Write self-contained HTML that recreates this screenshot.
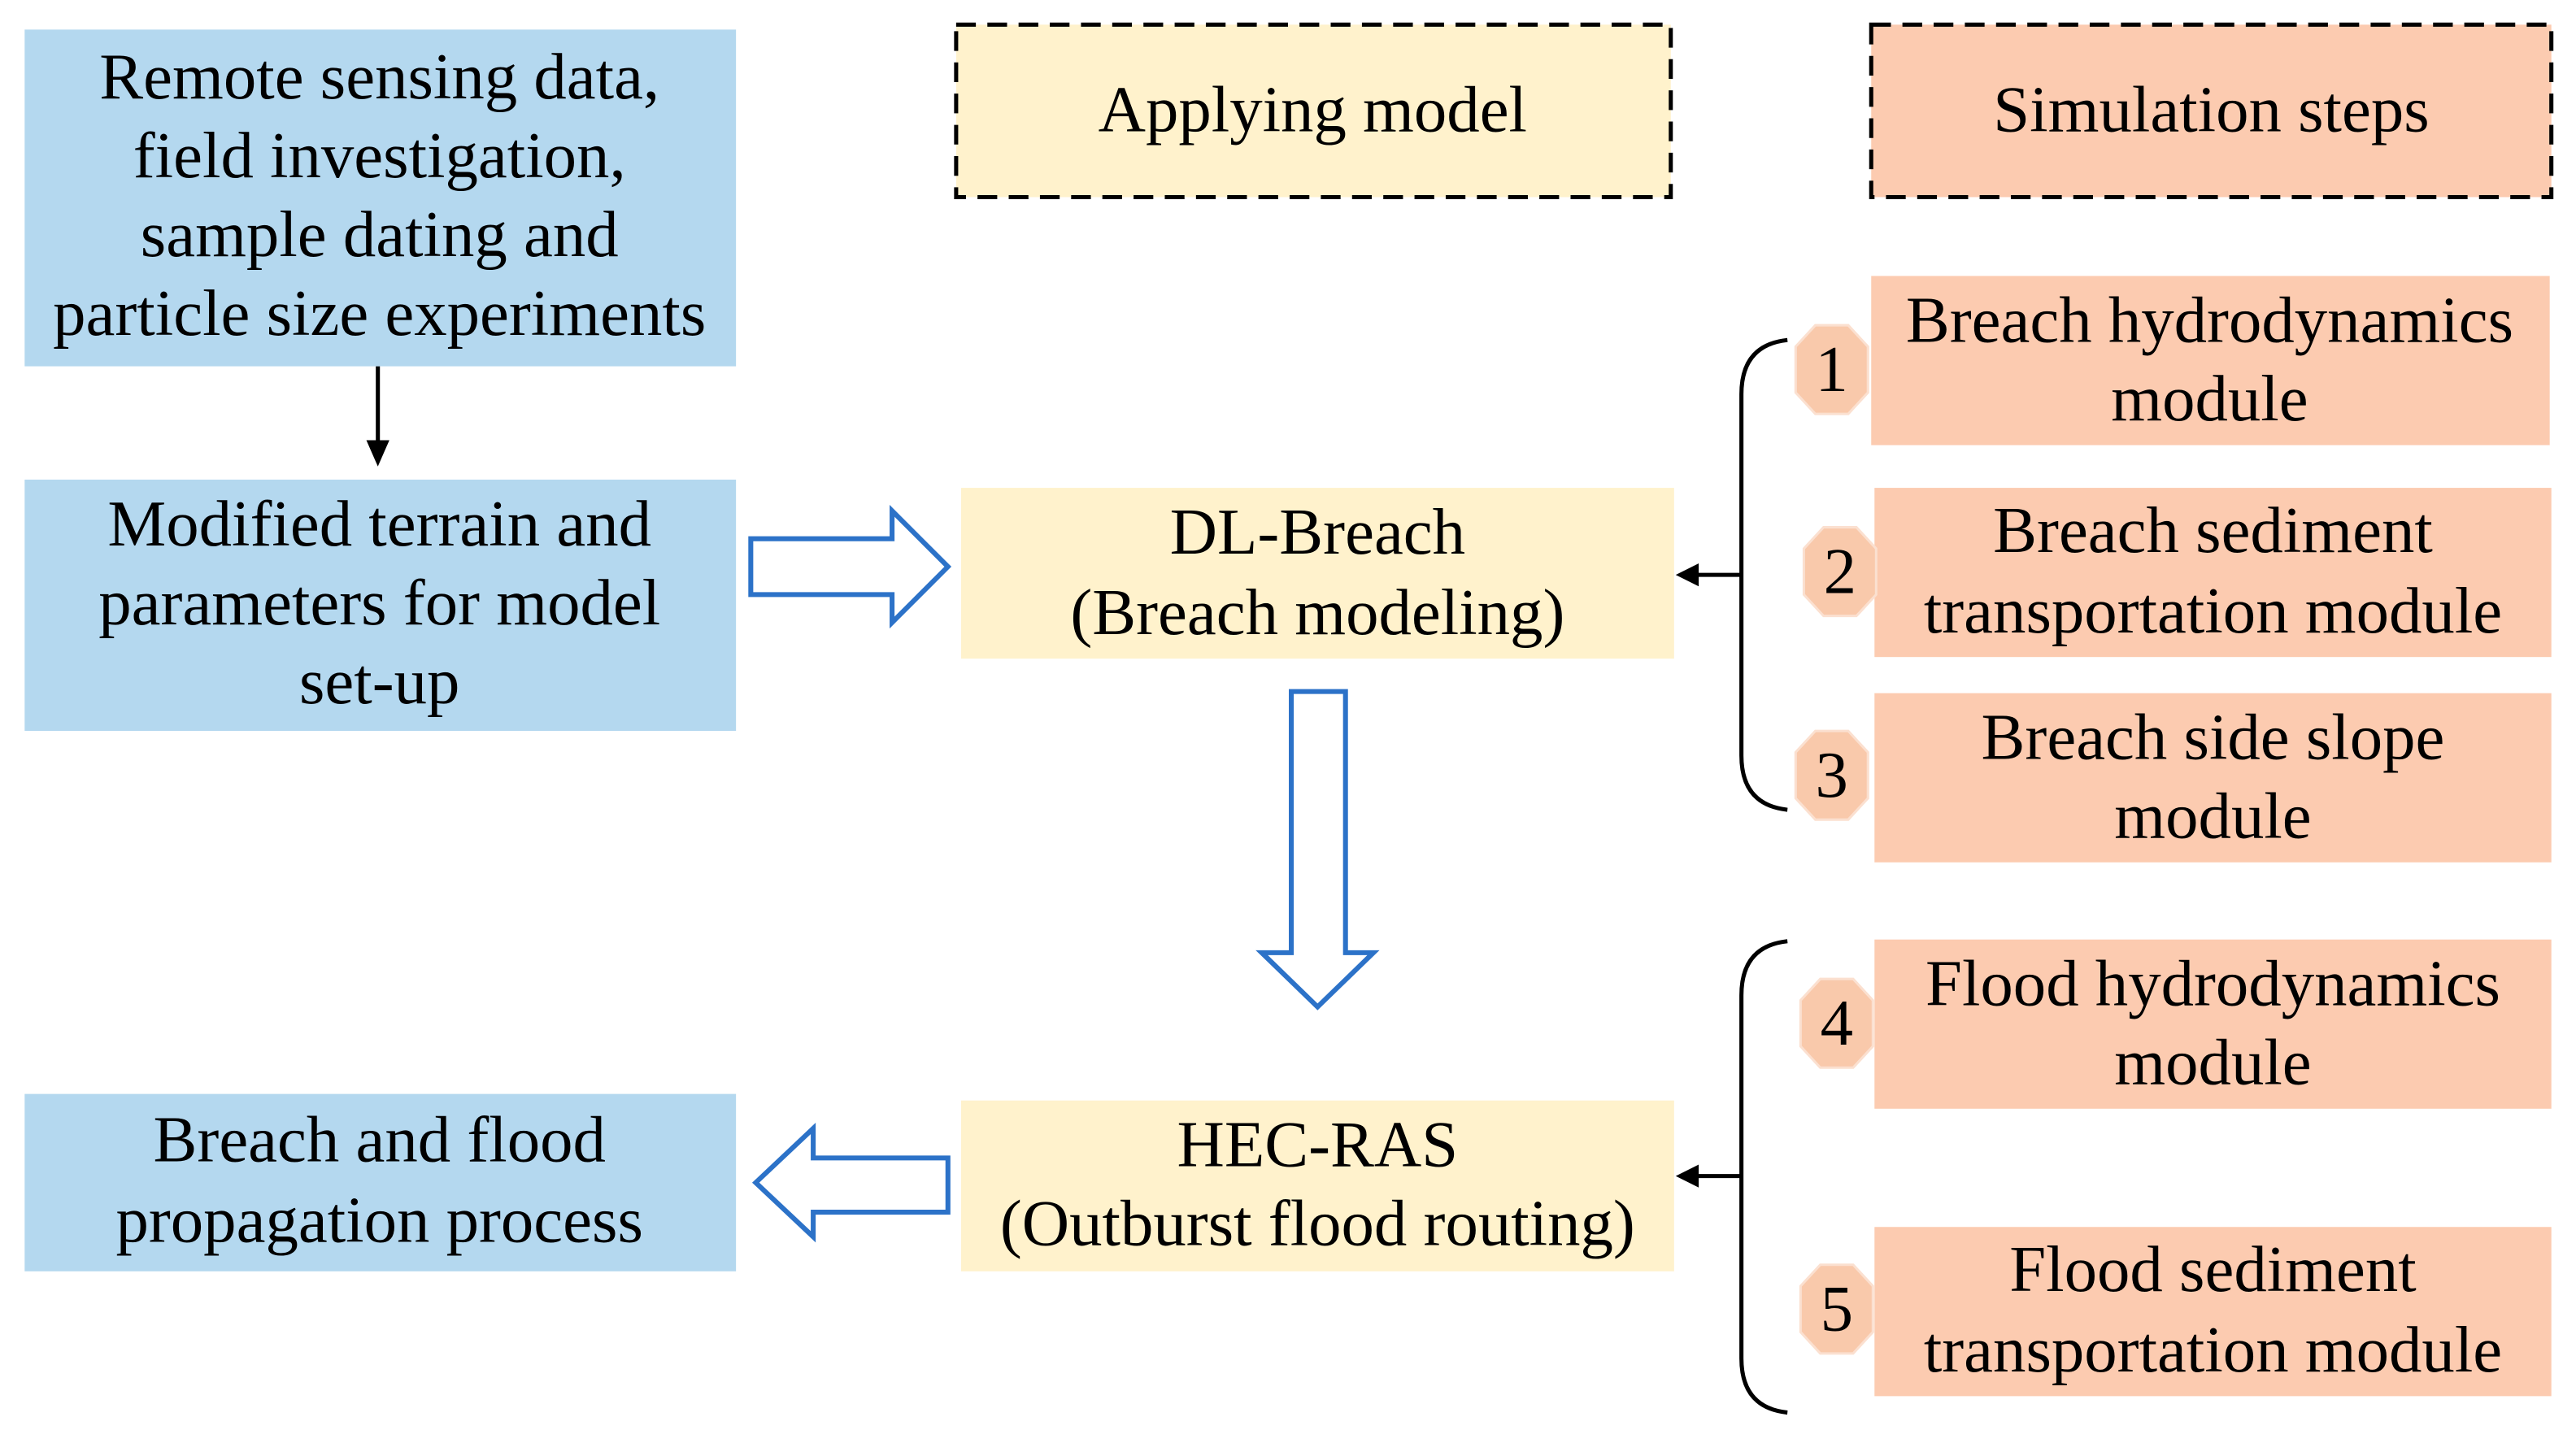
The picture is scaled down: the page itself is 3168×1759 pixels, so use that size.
<!DOCTYPE html>
<html><head><meta charset="utf-8"><style>html,body{margin:0;padding:0;background:#fff}svg{display:block}text{font-family:"Liberation Serif","Times New Roman",serif;font-size:40px}</style></head>
<body>
<svg width="3168" height="1759" viewBox="0 0 1568 870.6" xmlns="http://www.w3.org/2000/svg" text-anchor="middle">
<rect width="1568" height="871" fill="#fff"/>
<rect x="15" y="18" width="433" height="205" fill="#b4d8ef"/>
<text x="231" y="60">Remote sensing data,</text>
<text x="231" y="108">field investigation,</text>
<text x="231" y="156">sample dating and</text>
<text x="231" y="204">particle size experiments</text>
<line x1="230" y1="223" x2="230" y2="270" stroke="#000" stroke-width="2.5"/>
<polygon points="223,268 237,268 230,284" fill="#000"/>
<rect x="15" y="292" width="433" height="153" fill="#b4d8ef"/>
<text x="231" y="332">Modified terrain and</text>
<text x="231" y="380">parameters for model</text>
<text x="231" y="428">set-up</text>
<rect x="15" y="666" width="433" height="108" fill="#b4d8ef"/>
<text x="231" y="707">Breach and flood</text>
<text x="231" y="756">propagation process</text>
<polygon points="457,328 543,328 543,311 577,345 543,379 543,362 457,362" fill="#fff" stroke="#2c72c8" stroke-width="3"/>
<polygon points="786,421 819,421 819,580 836,580 802,613 768,580 786,580" fill="#fff" stroke="#2c72c8" stroke-width="3"/>
<polygon points="577,705 495,705 495,687 460,720 495,753 495,738 577,738" fill="#fff" stroke="#2c72c8" stroke-width="3"/>
<rect x="582" y="15" width="435" height="105" fill="#fff2cc" stroke="#000" stroke-width="2.5" stroke-dasharray="12,7"/>
<text x="799" y="80">Applying model</text>
<rect x="1139" y="15" width="414" height="105" fill="#fccbb0" stroke="#000" stroke-width="2.5" stroke-dasharray="12,7"/>
<text x="1346" y="80">Simulation steps</text>
<rect x="585" y="297" width="434" height="104" fill="#fff2cc"/>
<text x="802" y="337">DL-Breach</text>
<text x="802" y="386">(Breach modeling)</text>
<rect x="585" y="670" width="434" height="104" fill="#fff2cc"/>
<text x="802" y="710">HEC-RAS</text>
<text x="802" y="758">(Outburst flood routing)</text>
<path d="M1088,207 Q1060,210 1060,240 L1060,460 Q1060,490 1088,493" fill="none" stroke="#000" stroke-width="2.5"/>
<line x1="1060" y1="350" x2="1032" y2="350" stroke="#000" stroke-width="2.5"/>
<polygon points="1020,350 1034,343 1034,357" fill="#000"/>
<path d="M1088,573 Q1060,576 1060,606 L1060,827 Q1060,857 1088,860" fill="none" stroke="#000" stroke-width="2.5"/>
<line x1="1060" y1="716" x2="1032" y2="716" stroke="#000" stroke-width="2.5"/>
<polygon points="1020,716 1034,709 1034,723" fill="#000"/>
<g fill="#fccbb0">
<rect x="1139" y="168" width="413" height="103"/>
<rect x="1141" y="297" width="412" height="103"/>
<rect x="1141" y="422" width="412" height="103"/>
<rect x="1141" y="572" width="412" height="103"/>
<rect x="1141" y="747" width="412" height="103"/>
</g>
<text x="1345" y="208">Breach hydrodynamics</text>
<text x="1345" y="256">module</text>
<text x="1347" y="336">Breach sediment</text>
<text x="1347" y="385">transportation module</text>
<text x="1347" y="462">Breach side slope</text>
<text x="1347" y="510">module</text>
<text x="1347" y="612">Flood hydrodynamics</text>
<text x="1347" y="660">module</text>
<text x="1347" y="786">Flood sediment</text>
<text x="1347" y="835">transportation module</text>
<g fill="#f9c9ab" stroke="#fbe0d0" stroke-width="1.5">
<polygon points="1105,198 1125,198 1137,211 1137,239 1125,252 1105,252 1093,239 1093,211"/>
<polygon points="1110,321 1130,321 1142,334 1142,362 1130,375 1110,375 1098,362 1098,334"/>
<polygon points="1105,445 1125,445 1137,458 1137,486 1125,499 1105,499 1093,486 1093,458"/>
<polygon points="1108,596 1128,596 1140,609 1140,637 1128,650 1108,650 1096,637 1096,609"/>
<polygon points="1108,770 1128,770 1140,783 1140,811 1128,824 1108,824 1096,811 1096,783"/>
</g>
<text x="1115" y="238">1</text>
<text x="1120" y="361">2</text>
<text x="1115" y="485">3</text>
<text x="1118" y="636">4</text>
<text x="1118" y="810">5</text>
</svg>
</body></html>
